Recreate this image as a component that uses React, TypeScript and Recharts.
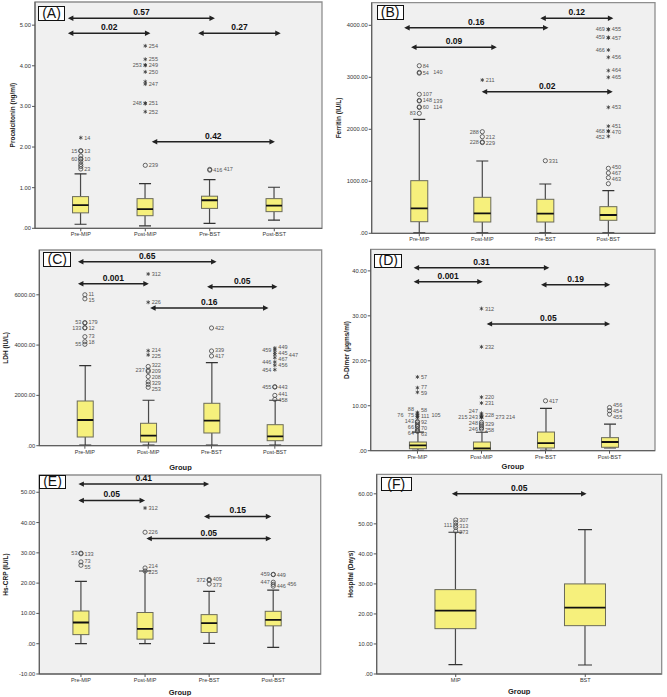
import React from "react";
import { Bar, ComposedChart, ReferenceArea, ReferenceLine, Scatter, XAxis, YAxis } from "recharts";

const FONT = '"Liberation Sans", Arial, Helvetica, sans-serif';

const groups4 = ["Pre-MIP", "Post-MIP", "Pre-BST", "Post-BST"];
const groups2 = ["MIP", "BST"];

// box stats per group: [min, q1, median, q3, max]
// outliers: [group, value, case label, marker]
// significance arrows: [from group pos, to group pos, y, p]

const pctBox = [
  [0.1, 0.38, 0.57, 0.78, 1.34],
  [0.06, 0.31, 0.47, 0.73, 1.1],
  [0.12, 0.49, 0.69, 0.79, 1.2],
  [0.2, 0.41, 0.56, 0.73, 1.01],
];
const pctOut = [
  [1, 1.46, "23", "o"], [1, 1.52, "", "o"], [1, 1.57, "", "o"], [1, 1.64, "", "o"],
  [1, 1.7, "10", "o"], [1, 1.71, "60", "o"], [1, 1.78, "", "o"], [1, 1.9, "13", "o"],
  [1, 1.91, "15", "o"], [1, 2.23, "14", "*"],
  [2, 1.55, "239", "o"], [2, 2.87, "252", "*"], [2, 3.07, "248", "*"], [2, 3.08, "251", "*"],
  [2, 3.55, "247", "*"], [2, 3.61, "", "*"], [2, 3.85, "250", "*"], [2, 4.01, "249", "*"],
  [2, 4.02, "253", "*"], [2, 4.16, "255", "*"], [2, 4.49, "254", "*"],
  [3, 1.43, "416", "o"], [3, 1.45, "417", "o"],
];
const pctLeft = ["15", "60", "248", "253"];
const pctSig = [
  [0.8, 3.08, 5.17, "0.57"],
  [0.8, 2.08, 4.8, "0.02"],
  [2.82, 4.1, 4.8, "0.27"],
  [2.1, 4.01, 2.13, "0.42"],
];
const pctTicks = [0, 1, 2, 3, 4, 5];

const ferBox = [
  [10, 223, 480, 1012, 2192],
  [10, 217, 385, 692, 1390],
  [10, 217, 377, 654, 948],
  [10, 250, 352, 512, 819],
];
const ferOut = [
  [1, 2307, "83", "o"], [1, 2420, "60", "o"], [1, 2430, "114", "o"], [1, 2555, "148", "o"],
  [1, 2545, "139", "o"], [1, 2673, "107", "o"], [1, 3080, "54", "o"], [1, 3095, "140", "o"],
  [1, 3223, "84", "o"],
  [2, 1745, "229", "o"], [2, 1756, "228", "o"], [2, 1858, "212", "o"], [2, 1954, "288", "o"],
  [2, 2948, "211", "*"],
  [3, 1396, "331", "o"],
  [4, 954, "", "o"], [4, 1070, "463", "o"], [4, 1160, "467", "o"], [4, 1250, "450", "o"],
  [4, 1865, "452", "*"], [4, 1960, "470", "*"], [4, 1967, "468", "*"], [4, 2060, "451", "*"],
  [4, 2423, "453", "*"], [4, 3000, "465", "*"], [4, 3130, "464", "*"], [4, 3385, "456", "*"],
  [4, 3525, "466", "*"], [4, 3760, "457", "*"], [4, 3765, "459", "*"], [4, 3920, "455", "*"],
  [4, 3925, "469", "*"],
];
const ferLeft = ["83", "288", "228", "452", "468", "466", "459", "469"];
const ferSig = [
  [2.92, 4.08, 4135, "0.12"],
  [0.76, 3.05, 3954, "0.16"],
  [0.87, 2.23, 3577, "0.09"],
  [1.99, 4.07, 2723, "0.02"],
];
const ferTicks = [0, 1000, 2000, 3000, 4000];

const ldhBox = [
  [20, 345, 1022, 1777, 3181],
  [20, 146, 398, 891, 1806],
  [20, 505, 994, 1686, 3300],
  [20, 199, 374, 835, 1806],
];
const ldhOut = [
  [1, 4032, "55", "o"], [1, 4135, "18", "o"], [1, 4334, "73", "o"], [1, 4680, "133", "o"],
  [1, 4692, "12", "o"], [1, 4880, "53", "o"], [1, 4891, "179", "o"], [1, 5840, "15", "o"],
  [1, 6000, "11", "o"],
  [2, 2322, "253", "o"], [2, 2440, "", "o"], [2, 2545, "329", "o"], [2, 2750, "208", "o"],
  [2, 2950, "209", "o"], [2, 3000, "237", "o"], [2, 3150, "322", "o"], [2, 3610, "225", "*"],
  [2, 3778, "214", "*"], [2, 5702, "226", "*"], [2, 6827, "312", "*"],
  [3, 3567, "417", "o"], [3, 3766, "339", "o"], [3, 4680, "422", "o"],
  [4, 1840, "458", "o"], [4, 2000, "441", "o"], [4, 2334, "443", "o"], [4, 2340, "455", "o"],
  [4, 3022, "454", "*"], [4, 3200, "456", "*"], [4, 3328, "446", "*"], [4, 3499, "467", "*"],
  [4, 3700, "445", "*"], [4, 3620, "447", "*"], [4, 3805, "459", "*"], [4, 3880, "449", "*"],
];
const ldhLeft = ["55", "133", "53", "237", "455", "454", "446", "459"];
const ldhSig = [
  [0.89, 3.08, 7316, "0.65"],
  [0.89, 2.01, 6441, "0.001"],
  [2.93, 4.04, 6322, "0.05"],
  [2.03, 3.9, 5475, "0.16"],
];
const ldhTicks = [0, 2000, 4000, 6000];

const ddBox = [
  [0.05, 0.44, 1.19, 1.93, 4.15],
  [0.05, 0.1, 0.52, 1.93, 4.1],
  [0.05, 0.6, 1.7, 4.15, 9.4],
  [0.6, 0.76, 1.93, 2.9, 5.9],
];
const ddOut = [
  [1, 4.3, "63", "o"], [1, 4.5, "64", "o"], [1, 4.9, "", "o"], [1, 5.4, "70", "o"],
  [1, 5.5, "66", "o"], [1, 5.9, "", "o"], [1, 6.3, "92", "o"], [1, 6.5, "143", "o"],
  [1, 8.5, "88", "*"], [1, 8.3, "58", "*"], [1, 7.9, "76", "*"], [1, 7.85, "105", "*"],
  [1, 7.5, "75", "*"], [1, 7.4, "111", "*"], [1, 13.0, "59", "*"], [1, 14.0, "77", "*"],
  [1, 16.4, "57", "*"],
  [2, 4.8, "258", "o"], [2, 5.1, "246", "o"], [2, 5.5, "329", "o"], [2, 5.9, "", "o"],
  [2, 6.3, "248", "o"], [2, 8.3, "247", "*"], [2, 8.0, "228", "*"], [2, 7.6, "243", "*"],
  [2, 7.4, "273", "*"], [2, 7.5, "215", "*"], [2, 7.45, "214", "*"], [2, 10.6, "231", "*"],
  [2, 11.9, "220", "*"], [2, 23.1, "232", "*"], [2, 31.6, "312", "*"],
  [3, 11.1, "417", "o"],
  [4, 8.1, "455", "o"], [4, 8.9, "454", "o"], [4, 9.6, "456", "o"],
];
const ddLeft = ["64", "66", "143", "88", "76", "75", "246", "248", "247", "243", "215"];
const ddSig = [
  [0.94, 3.06, 40.7, "0.31"],
  [0.94, 2.02, 37.6, "0.001"],
  [2.93, 4.01, 36.9, "0.19"],
  [2.08, 4.01, 28.2, "0.05"],
];
const ddTicks = [0, 10, 20, 30, 40];

const crpBox = [
  [0, 3.0, 7.0, 10.8, 20.6],
  [0, 1.5, 4.9, 10.3, 24.0],
  [0.1, 3.7, 6.8, 9.6, 17.3],
  [-1.2, 5.9, 7.9, 10.7, 17.7],
];
const crpOut = [
  [1, 25.9, "55", "o"], [1, 27.0, "73", "o"], [1, 29.7, "133", "o"], [1, 29.9, "53", "o"],
  [2, 24.0, "225", "o"], [2, 25.0, "214", "o"], [2, 36.8, "226", "o"], [2, 44.8, "312", "*"],
  [3, 19.7, "373", "o"], [3, 20.9, "372", "o"], [3, 21.2, "409", "o"],
  [4, 19.0, "446", "o"], [4, 19.6, "456", "o"], [4, 20.3, "447", "o"], [4, 22.8, "449", "o"],
  [4, 22.9, "459", "o"],
];
const crpLeft = ["53", "372", "447", "459"];
const crpSig = [
  [0.96, 3.0, 52.7, "0.41"],
  [0.96, 2.0, 47.3, "0.05"],
  [2.92, 3.97, 42.0, "0.15"],
  [2.02, 3.97, 34.7, "0.05"],
];
const crpTicks = [-10, 0, 10, 20, 30, 40, 50];

const hosBox = [
  [3.1, 15.1, 21.1, 28.1, 47.2],
  [3.0, 16.1, 22.1, 30.0, 48.1],
];
const hosOut = [
  [1, 47.6, "273", "o"], [1, 48.8, "313", "o"], [1, 49.5, "111", "o"], [1, 50.4, "", "o"],
  [1, 51.3, "307", "o"],
];
const hosLeft = ["111"];
const hosSig = [[0.97, 2.01, 60.0, "0.05"]];
const hosTicks = [0, 10, 20, 30, 40, 50, 60];

const panels = [
  {
    tag: "(A)", title: "Procalcitonin (ng/ml)", groups: groups4, box: pctBox, out: pctOut, left: pctLeft,
    sig: pctSig, ticks: pctTicks, yDomain: [0, 5.57], xDomain: [0.29, 4.74],
    origin: [0, 0], plot: [35, 2, 322, 228.3], below: 14, titleX: 13, barW: 16, capW: 12,
    tagBox: [38, 6, 27, 15], group: false,
  },
  {
    tag: "(B)", title: "Ferritin (IU/L)", groups: groups4, box: ferBox, out: ferOut, left: ferLeft,
    sig: ferSig, ticks: ferTicks, yDomain: [0, 4435], xDomain: [0.245, 4.74],
    origin: [333, 0], plot: [371.7, 2.7, 655, 233.3], below: 14, titleX: 5.5, barW: 17, capW: 12,
    tagBox: [376.7, 5, 27, 15], group: false,
  },
  {
    tag: "(C)", title: "LDH (IU/L)", groups: groups4, box: ldhBox, out: ldhOut, left: ldhLeft,
    sig: ldhSig, ticks: ldhTicks, yDomain: [0, 7781], xDomain: [0.28, 4.74],
    origin: [0, 247], plot: [39.3, 250, 321.7, 445.7], below: 25, titleX: 6, barW: 16, capW: 12,
    tagBox: [43.3, 252.3, 28, 15], group: true,
  },
  {
    tag: "(D)", title: "D-Dimer (µgms/ml)", groups: groups4, box: ddBox, out: ddOut, left: ddLeft,
    sig: ddSig, ticks: ddTicks, yDomain: [0, 44.8], xDomain: [0.27, 4.71],
    origin: [333, 247], plot: [370.7, 249.3, 655, 450.7], below: 19, titleX: 13.5, barW: 17, capW: 12,
    tagBox: [374.3, 254.3, 28, 13.5], group: true,
  },
  {
    tag: "(E)", title: "Hs-CRP (IU/L)", groups: groups4, box: crpBox, out: crpOut, left: crpLeft,
    sig: crpSig, ticks: crpTicks, yDomain: [-10, 55.7], xDomain: [0.35, 4.74],
    origin: [0, 468], plot: [39.3, 475, 320.7, 674], below: 22, titleX: 6, barW: 16, capW: 12,
    tagBox: [39.3, 475, 26.5, 13.5], group: true,
  },
  {
    tag: "(F)", title: "Hospital (Days)", groups: groups2, box: hosBox, out: hosOut, left: hosLeft,
    sig: hosSig, ticks: hosTicks, yDomain: [0, 66.5], xDomain: [0.39, 2.59],
    origin: [333, 468], plot: [376.7, 474.3, 661.7, 674], below: 21, titleX: 18, barW: 41, capW: 14,
    tagBox: [380.7, 476.7, 31, 14], group: true,
  },
];

const fmt = (v: number) => (v === 0 ? ".00" : v.toFixed(2));
const LABEL_GAP = 6;

// places case labels next to each other when they collide, then spreads
// the labels of one column apart vertically, roughly like SPSS does
function layoutOutliers(out: any[], left: string[], span: number, ppu: number) {
  const thr = span * 0.015;
  const pts: any[] = [];
  out.forEach(([g, v, id, m]) => {
    const side = left.includes(id) ? -1 : 1;
    let slot = 0;
    if (id) {
      const used = pts
        .filter((p) => p.id && p.x === g && p.side === side && Math.abs(p.v - v) < thr)
        .map((p) => p.slot);
      while (used.includes(slot)) slot++;
    }
    pts.push({ x: g, v, id, m, side, slot, ly: -v * ppu });
  });
  const cols: Record<string, any[]> = {};
  pts.filter((p) => p.id).forEach((p) => {
    const k = `${p.x}|${p.side}|${p.slot}`;
    (cols[k] = cols[k] || []).push(p);
  });
  Object.values(cols).forEach((col) => {
    col.sort((a, b) => a.ly - b.ly);
    for (let it = 0; it < 80; it++) {
      for (let i = 0; i + 1 < col.length; i++) {
        const d = LABEL_GAP - (col[i + 1].ly - col[i].ly);
        if (d > 0) {
          col[i].ly -= d / 2;
          col[i + 1].ly += d / 2;
        }
      }
    }
  });
  return pts.map((p) => ({ ...p, dy: p.ly + p.v * ppu }));
}

function OutlierMark(p: any) {
  const { cx, cy, payload } = p;
  const { id, m, side, slot, dy } = payload;
  const lx = cx + side * (3.5 + slot * 10.5);
  return (
    <g>
      {m === "*" ? (
        <g stroke="#333" strokeWidth={0.75}>
          <line x1={cx} y1={cy - 2} x2={cx} y2={cy + 2} />
          <line x1={cx - 1.75} y1={cy - 1} x2={cx + 1.75} y2={cy + 1} />
          <line x1={cx - 1.75} y1={cy + 1} x2={cx + 1.75} y2={cy - 1} />
        </g>
      ) : (
        <circle cx={cx} cy={cy} r={2.1} fill="none" stroke="#444" strokeWidth={0.8} />
      )}
      {id ? (
        <text
          x={lx}
          y={cy + dy}
          dy="0.35em"
          textAnchor={side < 0 ? "end" : "start"}
          fontSize={5.5}
          fill="#555"
        >
          {id}
        </text>
      ) : null}
    </g>
  );
}

const boxShape = (capW: number) => (p: any) => {
  const { x, y, width, height, payload } = p;
  const [mn, q1, md, q3, mx] = payload.stats;
  const top = Math.min(y, y + height);
  const bot = Math.max(y, y + height);
  const py = (v: number) => bot - ((v - mn) / (mx - mn)) * (bot - top);
  const cx = x + width / 2;
  return (
    <g>
      <line x1={cx} y1={py(mx)} x2={cx} y2={py(q3)} stroke="#4a4a4a" strokeWidth={1.2} />
      <line x1={cx} y1={py(q1)} x2={cx} y2={py(mn)} stroke="#4a4a4a" strokeWidth={1.2} />
      <line x1={cx - capW / 2} y1={py(mx)} x2={cx + capW / 2} y2={py(mx)} stroke="#333" strokeWidth={1.2} />
      <line x1={cx - capW / 2} y1={py(mn)} x2={cx + capW / 2} y2={py(mn)} stroke="#333" strokeWidth={1.2} />
      <rect x={x} y={py(q3)} width={width} height={py(q1) - py(q3)} fill="#f6f07c" stroke="#6b6b5a" strokeWidth={1} />
      <line x1={x} y1={py(md)} x2={x + width} y2={py(md)} stroke="#111" strokeWidth={1.8} />
    </g>
  );
};

const arrowShape = (p: any) => {
  const { x1, y1, x2 } = p;
  const a = Math.min(x1, x2);
  const b = Math.max(x1, x2);
  const h = 5.5;
  const w = 2.7;
  return (
    <g>
      <line x1={a + 2} y1={y1} x2={b - 2} y2={y1} stroke="#222" strokeWidth={1.5} />
      <path d={`M${a},${y1} l${h},${-w} l0,${2 * w} Z`} fill="#222" />
      <path d={`M${b},${y1} l${-h},${-w} l0,${2 * w} Z`} fill="#222" />
    </g>
  );
};

function Panel({ cfg }: { cfg: any }) {
  const [cl, ct] = cfg.origin;
  const [x0, y0, x1, y1] = cfg.plot;
  const width = x1 - cl + 2;
  const height = y1 - ct + cfg.below;
  const span = cfg.yDomain[1] - cfg.yDomain[0];
  const data = cfg.box.map((b: number[], i: number) => ({ x: i + 1, range: [b[0], b[4]], stats: b }));
  const pts = layoutOutliers(cfg.out, cfg.left, span, (y1 - y0) / span);
  const [tx, ty, tw, th] = cfg.tagBox;
  return (
    <>
      <div style={{ position: "absolute", left: cl, top: ct }}>
        <ComposedChart
          width={width}
          height={height}
          data={data}
          margin={{ top: y0 - ct, right: 2, bottom: 0, left: 0 }}
        >
          <ReferenceArea
            x1={cfg.xDomain[0]}
            x2={cfg.xDomain[1]}
            y1={cfg.yDomain[0]}
            y2={cfg.yDomain[1]}
            fill="#f0f0f0"
            fillOpacity={1}
            stroke="#8e8e8e"
            strokeWidth={1.3}
            ifOverflow="visible"
          />
          <XAxis
            type="number"
            dataKey="x"
            domain={cfg.xDomain}
            allowDataOverflow
            ticks={cfg.groups.map((_: string, i: number) => i + 1)}
            interval={0}
            tickFormatter={(v: number) => cfg.groups[v - 1]}
            height={cfg.below}
            tickSize={3}
            tickMargin={1}
            tick={{ fontSize: 5.5, fill: "#333" }}
            axisLine={{ stroke: "#555" }}
            tickLine={{ stroke: "#555" }}
            label={
              cfg.group
                ? { value: "Group", position: "insideBottom", offset: 1, style: { fontWeight: 700, fontSize: 7.5, fill: "#222" } }
                : undefined
            }
          />
          <YAxis
            type="number"
            domain={cfg.yDomain}
            allowDataOverflow
            ticks={cfg.ticks}
            interval={0}
            width={x0 - cl}
            tickFormatter={fmt}
            tickSize={3}
            tickMargin={1}
            tick={{ fontSize: 5.8, fill: "#333" }}
            axisLine={{ stroke: "#555" }}
            tickLine={{ stroke: "#555" }}
            label={{
              value: cfg.title,
              angle: -90,
              position: "insideLeft",
              offset: cfg.titleX,
              style: { textAnchor: "middle", fontWeight: 700, fontSize: 6.5, fill: "#222" },
            }}
          />
          <Bar dataKey="range" barSize={cfg.barW} shape={boxShape(cfg.capW)} isAnimationActive={false} />
          <Scatter data={pts} dataKey="v" shape={OutlierMark} isAnimationActive={false} />
          {cfg.sig.map(([a, b, y, p]: any[], i: number) => (
            <ReferenceLine
              key={i}
              segment={[{ x: a, y }, { x: b, y }]}
              shape={arrowShape}
              ifOverflow="visible"
              label={{ value: p, position: "top", offset: 3, fontSize: 8.5, fontWeight: 700, fill: "#111" }}
            />
          ))}
        </ComposedChart>
      </div>
      <div
        style={{
          position: "absolute",
          left: tx,
          top: ty,
          width: tw,
          height: th,
          boxSizing: "border-box",
          border: "1px solid #111",
          background: "#fff",
          fontSize: 14,
          lineHeight: `${th - 2}px`,
          textAlign: "center",
          color: "#111",
        }}
      >
        {cfg.tag}
      </div>
    </>
  );
}

export default function App() {
  return (
    <div
      style={{
        position: "absolute",
        left: 0,
        top: 0,
        width: 667,
        height: 697,
        background: "#fff",
        fontFamily: FONT,
        overflow: "hidden",
      }}
    >
      {panels.map((cfg) => (
        <Panel key={cfg.tag} cfg={cfg} />
      ))}
    </div>
  );
}
